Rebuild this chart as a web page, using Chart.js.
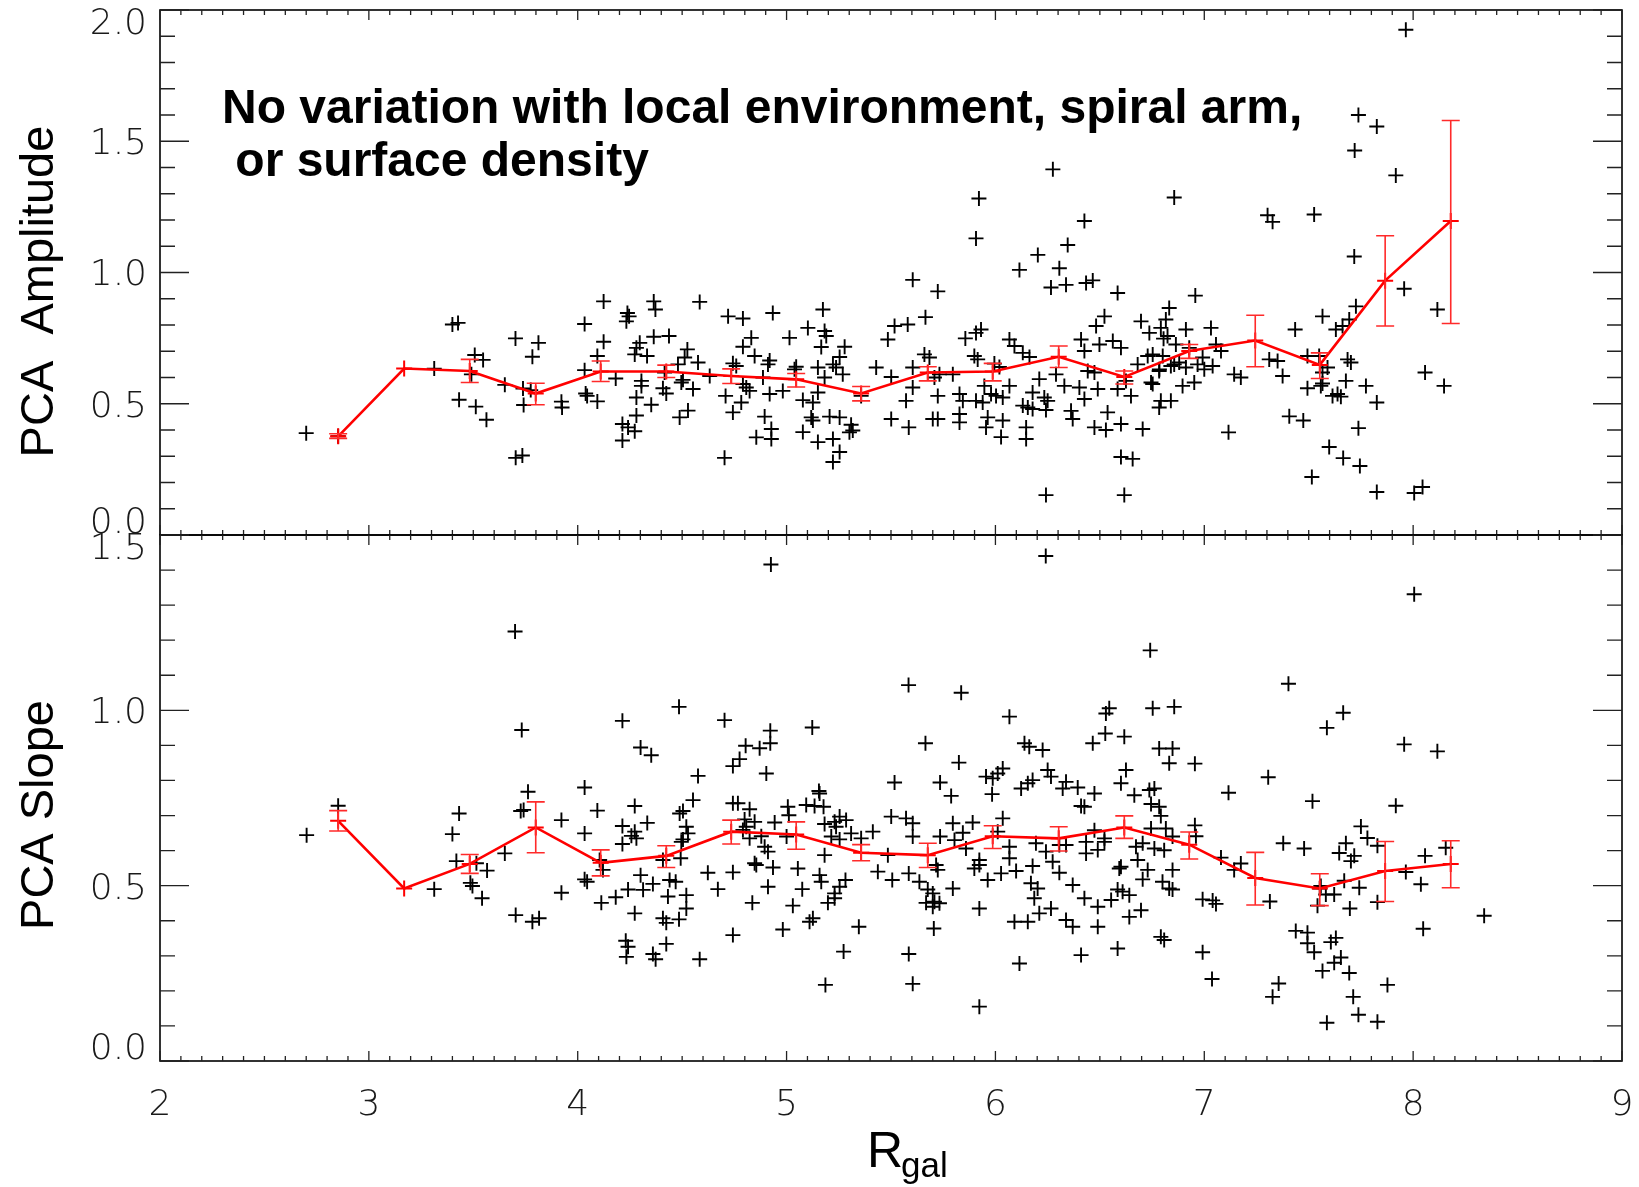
<!DOCTYPE html>
<html>
<head>
<meta charset="utf-8">
<script src="https://cdn.jsdelivr.net/npm/chart.js@4.4.1/dist/chart.umd.min.js"></script>
<style>
  html, body { margin: 0; padding: 0; background: #fff; }
  #wrap { position: relative; width: 1639px; height: 1187px; }
  #wrap canvas { position: absolute; left: 0; top: 0; }
</style>
</head>
<body>
<div id="wrap">
  <canvas id="amp" width="1639" height="1187"></canvas>
  <canvas id="slope" width="1639" height="1187"></canvas>
</div>
<script>
// ---- data ----
const xTickLabels = ['2', '3', '4', '5', '6', '7', '8', '9'];
const ampTickLabels = ['0.0', '0.5', '1.0', '1.5', '2.0'];
const slopeTickLabels = ['0.0', '0.5', '1.0', '1.5'];

// binned means (red line)
const binR = [2.853, 3.169, 3.483, 3.799, 4.110, 4.424, 4.735, 5.046, 5.357,
              5.676, 5.987, 6.303, 6.617, 6.928, 7.244, 7.553, 7.866, 8.180];
const ampMean = [0.376, 0.634, 0.625, 0.539, 0.623, 0.623, 0.606, 0.593, 0.539,
                 0.619, 0.623, 0.679, 0.602, 0.701, 0.741, 0.648, 0.969, 1.196];
const ampLo = [0.368, 0.634, 0.581, 0.496, 0.585, 0.600, 0.577, 0.564, 0.511,
               0.587, 0.587, 0.638, 0.575, 0.673, 0.641, 0.596, 0.796, 0.806];
const ampHi = [0.386, 0.634, 0.669, 0.578, 0.663, 0.647, 0.633, 0.615, 0.566,
               0.641, 0.654, 0.720, 0.625, 0.726, 0.837, 0.694, 1.140, 1.579];
const slopeMean = [0.685, 0.492, 0.562, 0.666, 0.565, 0.585, 0.654, 0.646, 0.594,
                   0.587, 0.641, 0.635, 0.666, 0.617, 0.522, 0.492, 0.542, 0.562];
const slopeLo = [0.656, 0.492, 0.535, 0.594, 0.528, 0.552, 0.619, 0.604, 0.571,
                 0.552, 0.606, 0.599, 0.635, 0.576, 0.445, 0.443, 0.455, 0.494];
const slopeHi = [0.714, 0.492, 0.589, 0.739, 0.602, 0.614, 0.687, 0.682, 0.617,
                 0.621, 0.671, 0.668, 0.699, 0.653, 0.595, 0.534, 0.626, 0.628];

// individual regions, PCA amplitude panel
const ampR = [
  2.700, 2.853, 3.313, 3.400, 3.427, 3.432, 3.507, 3.547, 3.491, 3.512, 3.563, 3.702,
  3.812, 3.783, 3.651, 3.738, 3.775, 3.741, 3.703, 3.735, 3.922, 3.925, 4.033, 4.124,
  4.124, 4.094, 4.033, 4.182, 4.038, 4.045, 4.094, 4.238, 4.246, 4.233, 4.364, 4.372,
  4.584, 4.364, 4.437, 4.297, 4.281, 4.273, 4.332, 4.525, 4.512, 4.576, 4.480, 4.305,
  4.305, 4.281, 4.352, 4.416, 4.408, 4.424, 4.504, 4.496, 4.552, 4.281, 4.488, 4.528,
  4.214, 4.241, 4.273, 4.214, 4.632, 4.703, 4.720, 4.708,
  4.743, 4.791, 4.934, 4.831, 4.791, 4.743, 4.759, 4.847, 4.919, 4.911, 4.791, 4.807,
  4.823, 4.887, 4.919, 4.783, 4.895, 4.927, 4.927, 4.855, 5.014, 5.046, 5.038, 4.982,
  5.102, 5.174, 5.182, 5.190, 5.166, 5.150, 5.182, 5.150, 5.078, 5.126, 5.118, 5.126,
  5.078, 5.150, 5.222, 5.237, 5.278, 5.254, 5.269, 5.206, 5.254, 5.309, 5.317, 5.301,
  5.222, 5.254, 5.222, 5.357, 5.429, 5.485, 5.517, 5.580, 5.501, 5.604, 5.724, 5.665,
  5.604, 5.604, 5.572, 5.501, 5.585, 5.660, 5.684, 5.708, 5.732, 5.796, 5.724, 5.700,
  5.724, 5.828, 5.844, 5.828, 5.828, 5.907, 5.921, 5.856, 5.907, 5.931, 5.899, 5.915,
  5.995, 6.019, 5.907, 5.947, 5.979, 5.939, 6.003, 6.035, 5.963, 5.955, 6.027, 6.035,
  6.067, 6.091, 6.067, 6.115, 6.203, 6.346, 6.426, 6.306, 6.266, 6.338, 6.434, 6.466,
  6.585, 6.131, 6.163, 6.210, 6.178, 6.234, 6.250, 6.131, 6.155, 6.178, 6.242, 6.147,
  6.147, 6.242, 6.290, 6.330, 6.362, 6.370, 6.402, 6.426, 6.410, 6.426, 6.498, 6.562,
  6.601, 6.522, 6.482, 6.442, 6.474, 6.490, 6.537, 6.474, 6.529, 6.601, 6.585, 6.625,
  6.649, 6.601, 6.657, 6.617, 6.705, 6.697, 6.737, 6.832, 6.816, 6.792, 6.824, 6.729,
  6.753, 6.681, 6.784, 6.745, 6.753, 6.792, 6.784, 6.840, 6.864, 6.275,
  6.856, 7.303, 7.327, 7.526, 7.718, 7.957, 8.116, 6.957, 6.805, 6.912, 7.032, 6.928,
  7.056, 7.080, 6.801, 6.856, 6.880, 6.840, 6.785, 6.912, 7.000, 7.040, 6.968, 6.992,
  6.896, 6.952, 7.116, 7.143, 7.175, 7.311, 7.351, 7.375, 7.435, 7.566, 7.630, 7.662,
  7.694, 7.726, 7.494, 7.550, 7.590, 7.566, 7.566, 7.558, 7.494, 7.686, 7.702, 7.678,
  7.614, 7.638, 7.654, 7.774, 7.826, 7.738, 7.407, 7.474, 7.598, 7.665, 7.745, 7.515,
  7.826, 8.005, 8.045, 8.057, 8.148, 7.965, 7.738, 7.826, 7.720, 7.917
];
const ampVal = [
  0.388, 0.376, 0.634, 0.802, 0.808, 0.515, 0.686, 0.667, 0.612, 0.489, 0.439, 0.749,
  0.732, 0.679, 0.572, 0.558, 0.552, 0.495, 0.294, 0.303, 0.508, 0.486, 0.804, 0.890,
  0.736, 0.682, 0.628, 0.596, 0.539, 0.530, 0.509, 0.846, 0.833, 0.814, 0.890, 0.859,
  0.888, 0.755, 0.758, 0.732, 0.713, 0.688, 0.682, 0.707, 0.676, 0.657, 0.650, 0.587,
  0.568, 0.524, 0.496, 0.619, 0.559, 0.539, 0.591, 0.581, 0.556, 0.455, 0.448, 0.474,
  0.423, 0.410, 0.395, 0.360, 0.606, 0.294, 0.833, 0.530,
  0.467, 0.825, 0.846, 0.751, 0.717, 0.654, 0.644, 0.682, 0.665, 0.650, 0.575, 0.562,
  0.549, 0.600, 0.537, 0.505, 0.451, 0.404, 0.366, 0.372, 0.751, 0.641, 0.631, 0.549,
  0.789, 0.859, 0.777, 0.758, 0.716, 0.638, 0.600, 0.543, 0.514, 0.505, 0.448, 0.436,
  0.392, 0.354, 0.650, 0.638, 0.717, 0.678, 0.612, 0.451, 0.448, 0.420, 0.398, 0.391,
  0.366, 0.316, 0.278, 0.530, 0.638, 0.745, 0.796, 0.802, 0.602, 0.972, 0.928, 0.830,
  0.638, 0.562, 0.511, 0.442, 0.410, 0.688, 0.676, 0.600, 0.612, 0.612, 0.530, 0.442,
  0.442, 0.537, 0.511, 0.461, 0.429, 1.130, 1.282, 0.749, 0.770, 0.783, 0.682, 0.669,
  0.653, 0.640, 0.511, 0.568, 0.537, 0.505, 0.530, 0.524, 0.448, 0.410, 0.373, 0.436,
  0.745, 0.720, 0.568, 1.010, 1.067, 1.105, 1.196, 1.016, 0.943, 0.953, 0.960, 0.970,
  0.922, 0.694, 0.678, 0.594, 0.543, 0.524, 0.511, 0.493, 0.486, 0.480, 0.476, 0.410,
  0.366, 0.152, 0.612, 0.568, 0.473, 0.442, 0.562, 0.518, 0.745, 0.701, 0.726, 0.739,
  0.713, 0.833, 0.796, 0.625, 0.619, 0.556, 0.467, 0.410, 0.400, 0.423, 0.556, 0.587,
  0.530, 0.297, 0.290, 0.152, 0.404, 0.814, 0.770, 0.865, 0.821, 0.789, 0.758, 0.682,
  0.688, 0.650, 0.625, 0.581, 0.575, 0.511, 0.486, 0.511, 0.726, 1.393,
  1.286, 1.218, 1.193, 1.221, 1.061, 0.938, 0.859, 0.912, 0.748, 0.783, 0.789, 0.713,
  0.726, 0.701, 0.682, 0.650, 0.657, 0.644, 0.631, 0.638, 0.631, 0.644, 0.650, 0.676,
  0.568, 0.581, 0.391, 0.612, 0.600, 0.669, 0.663, 0.606, 0.783, 0.833, 0.783, 0.796,
  0.821, 0.871, 0.682, 0.682, 0.638, 0.619, 0.577, 0.568, 0.559, 0.669, 0.657, 0.587,
  0.530, 0.537, 0.527, 0.568, 0.505, 0.407, 0.452, 0.436, 0.335, 0.293, 0.263, 0.221,
  0.164, 0.160, 0.183, 0.619, 0.568, 1.925, 1.600, 1.556, 1.465, 1.370
];

// individual regions, PCA slope panel
const slopeR = [
  2.702, 2.853, 3.313, 3.432, 3.400, 3.419, 3.515, 3.566, 3.486, 3.496, 3.542, 3.651,
  3.732, 3.762, 3.727, 3.741, 3.703, 3.783, 3.815, 3.922, 3.922, 4.033, 4.094, 4.033,
  4.033, 4.045, 4.105, 4.121, 4.113, 4.182, 4.214, 4.301, 4.352, 4.273, 4.333, 4.214,
  4.273, 4.257, 4.281, 4.214, 4.241, 4.313, 4.360, 4.301, 4.273, 4.230, 4.241, 4.233,
  4.360, 4.373, 4.424, 4.408, 4.424, 4.485, 4.432, 4.440, 4.469, 4.520, 4.520, 4.408,
  4.485, 4.576, 4.552, 4.488, 4.504, 4.520, 4.528, 4.504, 4.496, 4.493, 4.623, 4.671,
  4.584, 4.703,
  4.922, 4.922, 4.871, 4.804, 4.775, 4.743, 4.903, 5.123, 4.743, 4.767, 4.823, 4.799,
  4.847, 4.807, 4.791, 4.943, 4.879, 4.823, 4.895, 4.911, 5.006, 5.011, 5.094, 5.000,
  4.743, 4.836, 4.847, 4.855, 4.935, 4.911, 4.743, 4.982, 5.030, 5.054, 5.075, 5.110,
  5.126, 5.155, 5.158, 5.177, 5.134, 5.182, 5.230, 5.254, 5.285, 5.237, 5.214, 5.254,
  5.309, 5.357, 5.182, 5.158, 5.166, 5.282, 5.254, 5.230, 5.230, 5.198, 5.346, 5.273,
  5.186, 5.413, 5.485, 5.437, 5.506, 5.501, 5.572, 5.604, 5.604, 5.517, 5.584, 5.665,
  5.585, 5.636, 5.676, 5.700, 5.668, 5.700, 5.708, 5.732, 5.724, 5.716, 5.796, 5.705,
  5.585, 5.604, 5.735, 5.788, 5.825, 5.836, 5.735, 5.796, 5.804, 5.844, 5.859, 5.891,
  5.923, 5.923, 5.899, 5.963, 5.923, 5.923, 5.955, 5.987, 6.035, 6.011, 5.984, 6.067,
  6.035, 6.011, 6.067, 6.067, 6.027, 6.099, 6.178, 6.139, 6.162, 6.226, 6.155, 6.178,
  6.123, 6.250, 6.266, 6.338, 6.322, 6.394, 6.474, 6.410, 6.426, 6.194, 6.242, 6.274,
  6.338, 6.306, 6.170, 6.202, 6.186, 6.306, 6.370, 6.210, 6.266, 6.091, 6.155, 6.115,
  6.338, 6.370, 6.410, 6.426, 6.490, 6.490, 6.554, 6.434, 6.434, 6.490, 6.522, 6.474,
  6.522, 6.466, 6.526, 6.529, 6.545, 6.617, 6.625, 6.601, 6.665, 6.737, 6.761, 6.745,
  6.784, 6.792, 6.753, 6.856, 6.784, 6.848, 6.832, 6.745, 6.816, 6.673, 6.705, 6.761,
  6.808, 6.848, 6.681, 6.601, 6.593, 6.729, 6.705, 6.585, 6.609, 6.641, 6.800, 6.832,
  6.848, 6.848, 6.641, 6.697, 6.585, 6.792, 6.808, 6.955, 6.955, 6.960,
  8.005, 7.403, 7.665, 7.587, 7.957, 8.116, 7.306, 7.116, 7.518, 7.917, 7.750, 7.781,
  7.678, 7.829, 7.378, 7.478, 7.646, 7.718, 7.702, 8.057, 8.156, 7.080, 7.175, 7.143,
  7.965, 8.037, 7.670, 7.742, 7.558, 7.582, 7.622, 7.542, 7.697, 7.829, 6.992, 7.040,
  7.056, 7.314, 8.340, 8.048, 7.438, 7.494, 7.494, 7.526, 7.606, 7.630, 7.622, 7.654,
  7.566, 7.694, 7.877, 7.356, 7.327, 7.713, 7.738, 7.587, 7.829, 6.992, 7.037, 7.553,
  3.700, 4.925, 6.241, 6.741
];
const slopeVal = [
  0.644, 0.728, 0.490, 0.706, 0.647, 0.570, 0.564, 0.543, 0.508, 0.499, 0.464, 0.592,
  0.944, 0.768, 0.713, 0.716, 0.416, 0.397, 0.407, 0.687, 0.480, 0.780, 0.714, 0.649,
  0.518, 0.511, 0.573, 0.545, 0.451, 0.467, 0.970, 0.894, 0.872, 0.727, 0.679, 0.670,
  0.654, 0.642, 0.635, 0.619, 0.489, 0.488, 0.505, 0.530, 0.421, 0.343, 0.326, 0.297,
  0.305, 0.290, 0.334, 0.407, 0.394, 0.404, 0.469, 0.516, 0.511, 0.473, 0.435, 0.573,
  1.010, 0.813, 0.744, 0.706, 0.713, 0.668, 0.649, 0.632, 0.625, 0.578, 0.537, 0.490,
  0.290, 0.972,
  0.942, 0.906, 0.892, 0.899, 0.861, 0.841, 0.820, 0.951, 0.735, 0.735, 0.718, 0.689,
  0.682, 0.668, 0.659, 0.680, 0.641, 0.635, 0.611, 0.597, 0.725, 0.701, 0.730, 0.640,
  0.538, 0.451, 0.564, 0.559, 0.552, 0.497, 0.359, 0.375, 0.443, 0.549, 0.490, 0.397,
  0.407, 0.770, 0.763, 0.725, 0.727, 0.676, 0.682, 0.697, 0.687, 0.668, 0.640, 0.632,
  0.649, 0.635, 0.587, 0.530, 0.511, 0.516, 0.497, 0.478, 0.464, 0.451, 0.383, 0.312,
  0.217, 0.654, 0.587, 0.540, 0.516, 0.697, 0.692, 0.678, 0.640, 0.794, 1.072, 0.906,
  0.535, 0.511, 0.489, 0.478, 0.451, 0.440, 0.454, 0.450, 0.545, 0.559, 0.492, 0.378,
  0.305, 0.220, 0.794, 0.756, 0.851, 1.050, 0.640, 0.678, 0.630, 0.651, 0.606, 0.680,
  0.573, 0.559, 0.549, 0.516, 0.435, 0.155, 0.811, 0.806, 0.834, 0.820, 0.761, 0.982,
  0.692, 0.654, 0.611, 0.578, 0.535, 0.542, 0.556, 0.906, 0.896, 0.887, 0.792, 0.801,
  0.777, 0.830, 0.811, 0.796, 0.777, 0.780, 0.763, 0.727, 0.725, 0.621, 0.597, 0.568,
  0.616, 0.616, 0.507, 0.492, 0.464, 0.537, 0.502, 0.421, 0.435, 0.397, 0.397, 0.278,
  0.402, 0.383, 0.302, 0.464, 0.440, 0.383, 0.459, 0.625, 0.592, 0.602, 0.625, 0.658,
  0.635, 0.906, 0.934, 0.991, 1.006, 0.925, 0.830, 0.792, 0.758, 0.773, 0.777, 0.733,
  0.725, 0.699, 1.006, 1.010, 0.891, 0.891, 0.849, 0.663, 0.663, 0.611, 0.621, 0.606,
  0.601, 0.640, 0.573, 0.554, 0.549, 0.545, 0.518, 0.489, 0.483, 0.473, 0.511, 0.492,
  0.489, 0.545, 0.411, 0.430, 0.321, 0.354, 0.345, 0.848, 0.672, 0.641,
  1.331, 1.076, 0.993, 0.950, 0.903, 0.883, 0.809, 0.765, 0.741, 0.728, 0.669, 0.636,
  0.621, 0.614, 0.621, 0.606, 0.593, 0.585, 0.570, 0.585, 0.608, 0.580, 0.563, 0.545,
  0.539, 0.504, 0.514, 0.494, 0.499, 0.475, 0.475, 0.443, 0.435, 0.453, 0.461, 0.458,
  0.448, 0.455, 0.414, 0.377, 0.371, 0.366, 0.336, 0.310, 0.339, 0.351, 0.280, 0.295,
  0.257, 0.251, 0.217, 0.221, 0.183, 0.183, 0.132, 0.109, 0.112, 0.310, 0.234, 0.492,
  1.225, 1.416, 1.440, 1.171
];

// ---- drawing ----
const TICK_FONT = '200 36px "DejaVu Sans", sans-serif';
const LABEL_FONT = '47px "Liberation Sans", Arial, sans-serif';

function pts(xs, ys) { return xs.map((v, i) => ({ x: v, y: ys[i] })); }

const idlFrame = {
  id: 'idlFrame',
  afterDatasetsDraw(chart, args, opts) {
    const { ctx, chartArea: a, scales: { x, y } } = chart;
    ctx.save();

    // error bars on the binned means
    ctx.strokeStyle = '#ff2a2a';
    ctx.lineWidth = 1.6;
    binR.forEach((r, i) => {
      const px = x.getPixelForValue(r);
      const p1 = y.getPixelForValue(opts.lo[i]);
      const p2 = y.getPixelForValue(opts.hi[i]);
      if (Math.abs(p1 - p2) < 1) return;
      ctx.beginPath();
      ctx.moveTo(px, p1); ctx.lineTo(px, p2);
      ctx.moveTo(px - 9, p1); ctx.lineTo(px + 9, p1);
      ctx.moveTo(px - 9, p2); ctx.lineTo(px + 9, p2);
      ctx.stroke();
    });

    // box
    ctx.strokeStyle = '#000';
    ctx.lineWidth = 1.6;
    ctx.strokeRect(a.left, a.top, a.right - a.left, a.bottom - a.top);

    // inward ticks
    ctx.strokeStyle = '#222';
    ctx.lineWidth = 1.3;
    ctx.beginPath();
    for (let i = 0; i <= 70; i++) {
      const px = x.getPixelForValue(2 + i / 10);
      const len = i % 10 === 0 ? 10 : 5;
      ctx.moveTo(px, a.bottom); ctx.lineTo(px, a.bottom - len);
      ctx.moveTo(px, a.top); ctx.lineTo(px, a.top + len);
    }
    const nY = Math.round(y.max * 10);
    for (let i = 0; i <= nY; i++) {
      const py = y.getPixelForValue(i / 10);
      const len = i % 5 === 0 ? 29 : 15;
      ctx.moveTo(a.left, py); ctx.lineTo(a.left + len, py);
      ctx.moveTo(a.right, py); ctx.lineTo(a.right - len, py);
    }
    ctx.stroke();

    // y tick labels (IDL nudges the end labels inward)
    ctx.fillStyle = '#1a1a1a';
    ctx.font = TICK_FONT;
    ctx.textAlign = 'right';
    ctx.textBaseline = 'middle';
    opts.yLabels.forEach((lab, i) => {
      const v = parseFloat(lab);
      let off = 3.5;
      if (i === 0) off = -11;
      if (i === opts.yLabels.length - 1) off = 15;
      ctx.fillText(lab, a.left - 13, y.getPixelForValue(v) + off);
    });

    // x tick labels + x title on the lower panel
    if (opts.xAxis) {
      ctx.textAlign = 'center';
      xTickLabels.forEach(lab => {
        ctx.fillText(lab, x.getPixelForValue(parseFloat(lab)), a.bottom + 45);
      });
      ctx.textBaseline = 'alphabetic';
      ctx.textAlign = 'left';
      ctx.fillStyle = '#000';
      ctx.font = '50px "Liberation Sans", Arial, sans-serif';
      ctx.fillText('R', 867, 1167);
      ctx.font = '35px "Liberation Sans", Arial, sans-serif';
      ctx.fillText('gal', 901, 1177);
    }

    // y title
    ctx.fillStyle = '#000';
    ctx.font = LABEL_FONT;
    ctx.textAlign = 'center';
    ctx.textBaseline = 'alphabetic';
    ctx.save();
    ctx.translate(53, (a.top + a.bottom) / 2 + opts.titleShift);
    ctx.rotate(-Math.PI / 2);
    ctx.fillText(opts.yTitle, 0, 0);
    ctx.restore();

    // annotation
    if (opts.note) {
      ctx.font = 'bold 48px "Liberation Sans", Arial, sans-serif';
      ctx.textAlign = 'left';
      opts.note.forEach((line, i) => ctx.fillText(line, 222, 123 + i * 53));
    }
    ctx.restore();
  }
};

function makePanel(id, pr, pv, mean, lo, hi, yMax, padTop, padBottom, extra) {
  return new Chart(document.getElementById(id), {
    type: 'scatter',
    data: {
      datasets: [
        {
          data: pts(binR, mean),
          showLine: true,
          borderColor: '#ff0000',
          borderWidth: 2.6,
          pointStyle: 'cross',
          pointRadius: 8,
          pointBorderColor: '#ff0000',
          pointBorderWidth: 2,
          order: 0
        },
        {
          data: pts(pr, pv),
          pointStyle: 'cross',
          pointRadius: 7.5,
          pointBorderColor: '#000',
          pointBorderWidth: 1.9,
          order: 1
        }
      ]
    },
    options: {
      responsive: false,
      animation: false,
      events: [],
      layout: { padding: { left: 160, right: 17, top: padTop, bottom: padBottom } },
      scales: {
        x: { type: 'linear', min: 2, max: 9, display: false },
        y: { type: 'linear', min: 0, max: yMax, display: false }
      },
      plugins: {
        legend: { display: false },
        tooltip: { enabled: false },
        idlFrame: Object.assign({ lo: lo, hi: hi }, extra)
      }
    },
    plugins: [idlFrame]
  });
}

makePanel('amp', ampR, ampVal, ampMean, ampLo, ampHi, 2.0, 7, 1187 - 535, {
  yLabels: ampTickLabels,
  yTitle: 'PCA  Amplitude',
  titleShift: 19,
  xAxis: false,
  note: ['No variation with local environment, spiral arm,', ' or surface density']
});

makePanel('slope', slopeR, slopeVal, slopeMean, slopeLo, slopeHi, 1.5, 535, 1187 - 1061, {
  yLabels: slopeTickLabels,
  yTitle: 'PCA Slope',
  titleShift: 17,
  xAxis: true,
  note: null
});
</script>
</body>
</html>
